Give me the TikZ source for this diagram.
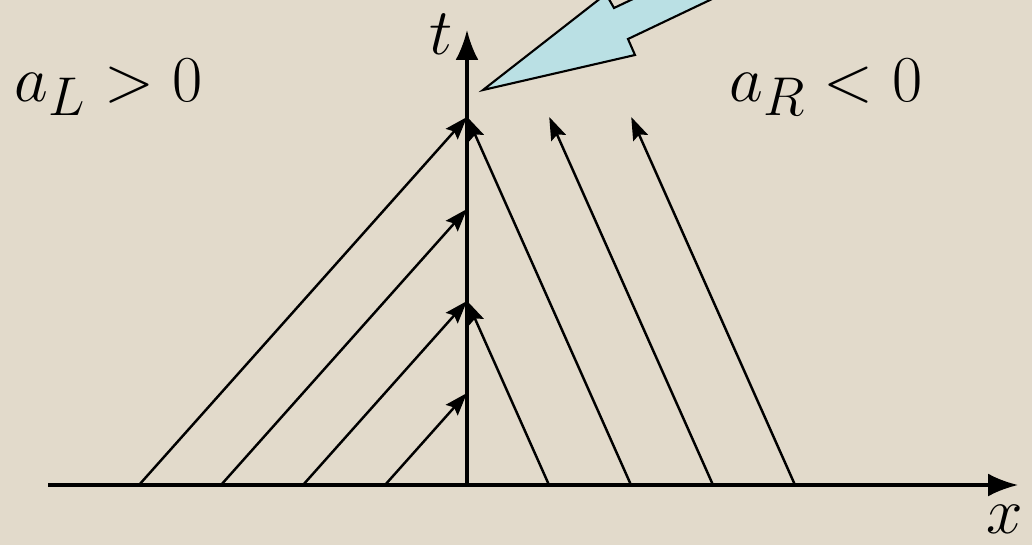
\documentclass[tikz,border=0pt]{standalone}
\usetikzlibrary{arrows.meta}
\definecolor{paper}{RGB}{226,218,203}
\definecolor{pfeil}{RGB}{186,224,228}

\begin{document}
\begin{tikzpicture}[x=0.02cm, y=-0.02cm, >={Stealth[length=13pt,width=9pt,inset=2pt]}]
        \tikzset{
          ax/.style ={line width=1.8pt, -{Latex[length=17pt,width=13pt]}},
          ch/.style ={line width=1.4pt, ->},
          lbl/.style={inner sep=0pt, font=\Huge, scale=1.5}
        }
        \fill[paper] (0,0) rectangle (1032,545);
        \useasboundingbox (0,0) rectangle (1032,545);
        \clip (0,0) rectangle (1032,545);
        %% --- Achsen ---
        \coordinate (O)  at (467,485);
        \coordinate (x0) at (48,485);
        \coordinate (x1) at (1018,485);
        \coordinate (t1) at (467,30);
        \draw[ax] (x0)--(x1);
        \draw[ax] (O)--(t1);
        \node[lbl, anchor=base west] (xl) at (986,533) {$x$};
        \node[lbl, anchor=base west] (tl) at (429,54)  {$t$};
        %% --- Charakteristiken links (a_L > 0) ---
        \foreach \k in {1,...,4} {
          \coordinate (Ls\k) at (467-82*\k,485);
          \coordinate (Le\k) at (467,485-92*\k);
          \draw[ch] (Ls\k)--(Le\k);
        }
        %% --- Charakteristiken rechts (a_R < 0) ---
        \foreach \k/\ye in {1/301,2/117,3/117,4/117} {
          \coordinate (Rs\k) at (467+82*\k,485);
          \coordinate (Re\k) at (467+82*\k-0.445*485+0.445*\ye,\ye);
          \draw[ch] (Rs\k)--(Re\k);
        }
        \node[lbl, anchor=base west] (aL) at (14,101)  {$a_L > 0$};
        \node[lbl, anchor=base west] (aR) at (729,101) {$a_R < 0$};
        %% --- Pfeil auf den Ursprung der Verdichtung ---
        \draw[fill=pfeil, line width=1.2pt, line join=miter]
          (483,90) -- (635,55) -- (628,39) -- (752,-20) -- (673,-20)
          -- (614,8) -- (606,-6) -- cycle;
    \end{tikzpicture}
\end{document}
